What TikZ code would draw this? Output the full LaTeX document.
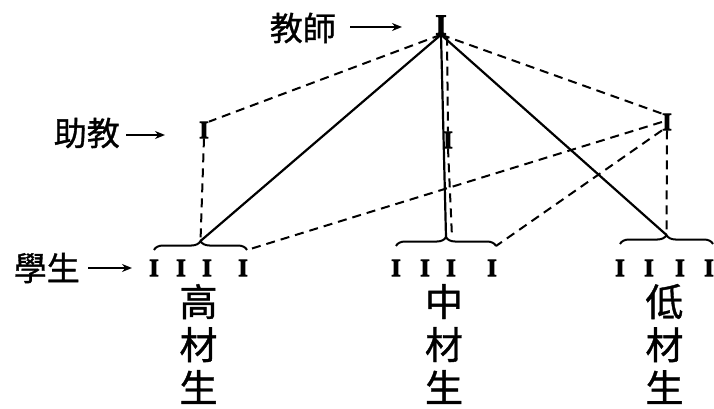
\documentclass[tikz,border=0pt]{standalone}
\usepackage{fontspec}
\newfontfamily\cjk[FakeBold=1]{Noto Sans CJK TC}
\newfontfamily\figfont[FakeBold=3]{Liberation Serif}
\usetikzlibrary{calc, arrows.meta, decorations.pathreplacing}

\tikzset{
    fig/.style={inner sep=0pt, font=\figfont\bfseries\fontsize{25}{25}\selectfont},
    bigfig/.style={inner sep=0pt, font=\figfont\bfseries\fontsize{29}{29}\selectfont},
    lab/.style={inner sep=0pt, font=\cjk\fontsize{33}{33}\selectfont},
    vlab/.style={inner sep=0pt, align=center, font=\cjk\fontsize{38}{43}\selectfont},
    solidln/.style={line width=2.2pt},
    dashln/.style={line width=2pt, dash pattern=on 9pt off 6pt},
    ptarrow/.style={line width=1.8pt, -{Stealth[length=10pt, width=8pt]}},
    bracel/.style={line width=2pt, decorate, decoration={brace, amplitude=9pt}}
}

\begin{document}
\begin{tikzpicture}[x=1pt, y=-1pt]
\useasboundingbox (0,0) rectangle (714,409);

% teacher and assistants
\node[bigfig] (tch) at (441,25) {I};
\node[fig] (asL) at (204,130) {I};
\node[fig] (asM) at (448,140) {I};
\node[fig] (asR) at (667,122) {I};

% labels with arrows
\node[lab, anchor=east] (tchLab) at (336,28) {教師};
\coordinate (tchArrS) at (350,27);
\coordinate (tchArr) at (402,27);
\draw[ptarrow] (tchArrS) -- (tchArr);
\node[lab, anchor=east] (asLab) at (120,133) {助教};
\coordinate (asArrS) at (126,135);
\coordinate (asArr) at (165,135);
\draw[ptarrow] (asArrS) -- (asArr);
\node[lab, anchor=east] (stuLab) at (80,268) {學生};
\coordinate (stuArrS) at (88,268);
\coordinate (stuArr) at (132,268);
\draw[ptarrow] (stuArrS) -- (stuArr);

% three groups of students
\foreach \grp/\xa/\xb/\xc/\xd/\yb/\txt in {L/154/181/207/243/250/{高\\材\\生}, M/396/425/451/492/246/{中\\材\\生}, R/620/649/680/709/244/{低\\材\\生}}
{
    \node[fig] (s\grp1) at (\xa,268) {I};
    \node[fig] (s\grp2) at (\xb,268) {I};
    \node[fig] (s\grp3) at (\xc,268) {I};
    \node[fig] (s\grp4) at (\xd,268) {I};
    \coordinate (b\grp W) at (\xa,\yb);
    \coordinate (b\grp E) at (\xd+4,\yb);
    \draw[bracel] (b\grp W) -- (b\grp E);
    \coordinate (b\grp T) at ($(b\grp W)!0.5!(b\grp E)+(0,-9)$);
    \node[vlab] (v\grp) at ($(s\grp1)!0.5!(s\grp4)+(0,76)$) {\txt};
}

% teacher lines
\draw[solidln] (tch.south) -- (bLT);
\draw[solidln] (tch.south) -- (bMT);
\draw[solidln] (tch.south) -- (bRT);
\draw[dashln] (tch.south) -- (asL.north east);
\draw[dashln] (tch.south) -- (asR.north west);
\draw[dashln] (tch.south) ++(6,2) -- (asM.north);
\draw[dashln] (asM.south) -- ($(bMT)+(6,0)$);

% assistant lines
\draw[dashln] (asL.south) -- (bLT);
\draw[dashln] (asR.south) -- (bRT);
\draw[dashln] (asR.west) -- (bLE);
\draw[dashln] (asR.south west) -- (bME);
\end{tikzpicture}
\end{document}
